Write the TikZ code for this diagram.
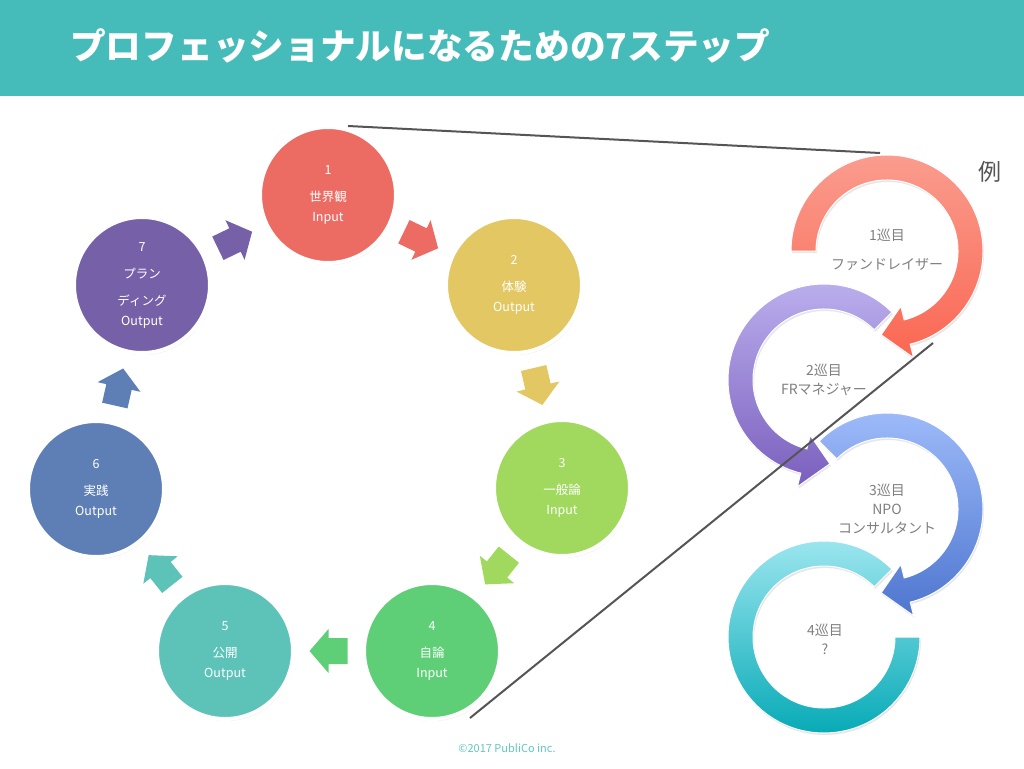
\documentclass[tikz,border=0pt]{standalone}
\usepackage{fontspec}
\setmainfont{Noto Sans CJK JP}
\usetikzlibrary{shadows,calc}
\definecolor{hdr}{HTML}{46BCBA}
\definecolor{cA}{HTML}{EC6B63}
\definecolor{cB}{HTML}{E2C762}
\definecolor{cC}{HTML}{A1D85E}
\definecolor{cD}{HTML}{5ECF76}
\definecolor{cE}{HTML}{5DC3B8}
\definecolor{cF}{HTML}{5E7FB6}
\definecolor{cG}{HTML}{7660A8}
\definecolor{sAt}{HTML}{FA9C8E}
\definecolor{sAb}{HTML}{FA6752}
\definecolor{sBt}{HTML}{BDB1EF}
\definecolor{sBb}{HTML}{7A5FBD}
\definecolor{sCt}{HTML}{A0BDFB}
\definecolor{sCb}{HTML}{4E76CF}
\definecolor{sDt}{HTML}{A2E8F1}
\definecolor{sDb}{HTML}{00A8B4}
\definecolor{txtgray}{HTML}{7F7F7F}
\definecolor{linegray}{HTML}{555555}
\definecolor{foot}{HTML}{62C6C6}
\tikzset{
  stepcircle/.style={circle, minimum size=136pt, inner sep=0pt, draw=white, line width=4pt,
    text=white, align=center, font=\fontsize{12.5}{20}\selectfont,
    drop shadow={opacity=0.22, shadow xshift=1pt, shadow yshift=-2pt}},
  blockarrow/.pic={\fill[#1] (-19,-13) -- (0,-13) -- (0,-22) -- (19,0) -- (0,22) -- (0,13) -- (-19,13) -- cycle;},
  ringarrow/.style={draw=white, line width=1pt, drop shadow={opacity=0.2, shadow xshift=1pt, shadow yshift=-2pt}},
  spiraltext/.style={text=txtgray, align=center, font=\fontsize{14}{19}\selectfont},
  guide/.style={draw=linegray, line width=2pt}
}
\begin{document}
\begin{tikzpicture}[x=1pt,y=-1pt]
\useasboundingbox (0,0) rectangle (1024,768);
\fill[hdr] (0,0) rectangle (1024,96);
\node[anchor=west, text=white, inner sep=0pt, font=\fontsize{35.7}{40}\selectfont\bfseries] (title) at (70,46) {プロフェッショナルになるための7ステップ};

% step circles
\node[stepcircle, fill=cA] (c1) at (328,195) {1\\[7pt]世界観\\Input};
\node[stepcircle, fill=cB] (c2) at (514,285) {2\\[7pt]体験\\Output};
\node[stepcircle, fill=cC] (c3) at (562,488) {3\\[7pt]一般論\\Input};
\node[stepcircle, fill=cD] (c4) at (432,651) {4\\[7pt]自論\\Input};
\node[stepcircle, fill=cE] (c5) at (225,651) {5\\[7pt]公開\\Output};
\node[stepcircle, fill=cF] (c6) at (96,489) {6\\[7pt]実践\\Output};
\node[stepcircle, fill=cG] (c7) at (142,285) {7\\[7pt]プラン\\[7pt]ディング\\Output};

% block arrows between the steps
\path (c1) -- (c2) pic[pos=0.5, sloped, allow upside down] {blockarrow=cA};
\path (c2) -- (c3) pic[pos=0.5, sloped, allow upside down] {blockarrow=cB};
\path (c3) -- (c4) pic[pos=0.5, sloped, allow upside down] {blockarrow=cC};
\path (c4) -- (c5) pic[pos=0.5, sloped, allow upside down] {blockarrow=cD};
\path (c5) -- (c6) pic[pos=0.5, sloped, allow upside down] {blockarrow=cE};
\path (c6) -- (c7) pic[pos=0.5, sloped, allow upside down] {blockarrow=cF};
\path (c7) -- (c1) pic[pos=0.5, sloped, allow upside down] {blockarrow=cG};

% circular arrows (example)
\begin{scope}[shift={(824,637)}, y=1pt]
\shadedraw[ringarrow, top color=sDt, bottom color=sDb] (45:96) arc[start angle=45, end angle=360, radius=96] -- (0:71) arc[start angle=360, end angle=45, radius=71] -- cycle;
\end{scope}
\begin{scope}[shift={(887,509)}, y=1pt]
\shadedraw[ringarrow, top color=sCt, bottom color=sCb] (135:96) arc[start angle=135, end angle=-76, radius=96] -- (-76:110) -- (-94:84) -- (-76:57) -- (-76:71) arc[start angle=-76, end angle=135, radius=71] -- cycle;
\end{scope}
\begin{scope}[shift={(824,380)}, y=1pt]
\shadedraw[ringarrow, top color=sBt, bottom color=sBb] (45:96) arc[start angle=45, end angle=256, radius=96] -- (256:110) -- (274:84) -- (256:57) -- (256:71) arc[start angle=256, end angle=45, radius=71] -- cycle;
\end{scope}
\begin{scope}[shift={(887,251)}, y=1pt]
\shadedraw[ringarrow, top color=sAt, bottom color=sAb] (180:96) arc[start angle=180, end angle=-76, radius=96] -- (-76:110) -- (-94:84) -- (-76:57) -- (-76:71) arc[start angle=-76, end angle=180, radius=71] -- cycle;
\end{scope}

\node[spiraltext] (r1) at (887,250) {1巡目\\[10pt]ファンドレイザー};
\node[spiraltext] (r2) at (824,380) {2巡目\\FRマネジャー};
\node[spiraltext] (r3) at (887,509) {3巡目\\NPO\\コンサルタント};
\node[spiraltext] (r4) at (825,639) {4巡目\\?};
\node[text=linegray, font=\fontsize{23}{26}\selectfont] (rei) at (990,172) {例};

% guide lines
\coordinate (g1a) at (348,126);
\coordinate (g1b) at (880,153);
\coordinate (g2a) at (470,718);
\coordinate (g2b) at (933,343);
\draw[guide] (g1a) -- (g1b);
\draw[guide] (g2a) -- (g2b);

\node[text=foot, font=\fontsize{11}{13}\selectfont] (footer) at (507,748) {©2017 PubliCo inc.};
\end{tikzpicture}
\end{document}
